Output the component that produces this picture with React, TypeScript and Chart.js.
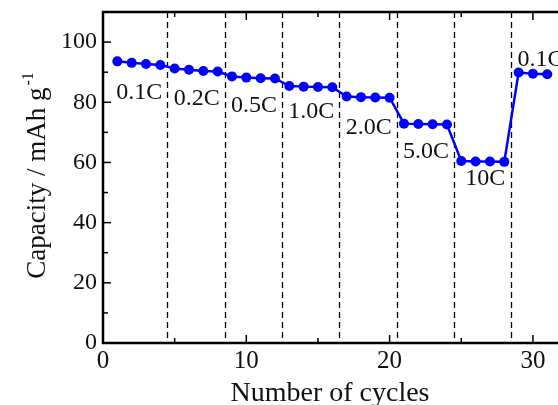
import { useEffect, useRef } from 'react';
import { Chart, registerables } from 'chart.js';

Chart.register(...registerables);

// ---- data ----
const cycles = [1, 2, 3, 4, 5, 6, 7, 8, 9, 10, 11, 12, 13, 14, 15, 16, 17, 18, 19, 20, 21, 22, 23, 24, 25, 26, 27, 28, 29, 30, 31];
const capacity = [
  93.6, 93.1, 92.7, 92.4,
  91.2, 90.8, 90.4, 90.2,
  88.6, 88.2, 88.0, 87.9,
  85.4, 85.2, 85.1, 85.0,
  81.9, 81.7, 81.6, 81.5,
  72.9, 72.8, 72.7, 72.6,
  60.5, 60.3, 60.3, 60.2,
  89.9, 89.5, 89.3,
];
const rateLabels = ['0.1C', '0.2C', '0.5C', '1.0C', '2.0C', '5.0C', '10C', '0.1C'];
const rateStartCycles = [1, 5, 9, 13, 17, 21, 25, 29];
const rateDividers = [4.5, 8.5, 12.5, 16.5, 20.5, 24.5, 28.5];
const xTickValues = [0, 10, 20, 30];
const xMinorValues = [5, 10, 15, 20, 25, 30];
const yTickValues = [0, 20, 40, 60, 80, 100];
const yMinorValues = [10, 20, 30, 40, 50, 60, 70, 80, 90, 100];

// ---- style / layout ----
const FONT = "'Liberation Serif', 'Times New Roman', serif";
const BLUE = '#0000ff';
const LABEL_OFFSETS: [number, number][] = [[0, 31], [0, 30], [0, 29], [0, 26], [0, 31], [0, 28], [5, 18], [0, -13]];

const overlayPlugin = {
  id: 'overlay',
  beforeDatasetsDraw(chart: any) {
    const { ctx, chartArea: a, scales } = chart;
    const x = scales.x;
    ctx.save();
    ctx.strokeStyle = '#000';
    ctx.lineWidth = 1.3;
    ctx.setLineDash([6, 4]);
    for (const d of rateDividers) {
      const px = Math.round(x.getPixelForValue(d)) + 0.5;
      ctx.beginPath();
      ctx.moveTo(px, a.top);
      ctx.lineTo(px, a.bottom);
      ctx.stroke();
    }
    ctx.restore();
  },
  afterDatasetsDraw(chart: any) {
    const { ctx, chartArea: a, scales, width, height } = chart;
    const x = scales.x;
    const y = scales.y;
    ctx.save();
    // frame
    ctx.strokeStyle = '#000';
    ctx.lineWidth = 2.5;
    ctx.setLineDash([]);
    ctx.beginPath();
    ctx.moveTo(width + 5, a.top);
    ctx.lineTo(a.left, a.top);
    ctx.lineTo(a.left, a.bottom);
    ctx.lineTo(width + 5, a.bottom);
    ctx.stroke();
    // ticks
    ctx.lineWidth = 1.5;
    for (const v of xMinorValues) {
      const px = x.getPixelForValue(v);
      const len = v % 10 === 0 ? 8 : 5;
      ctx.beginPath();
      ctx.moveTo(px, a.bottom);
      ctx.lineTo(px, a.bottom - len);
      ctx.moveTo(px, a.top);
      ctx.lineTo(px, a.top + len);
      ctx.stroke();
    }
    for (const v of yMinorValues) {
      const py = y.getPixelForValue(v);
      const len = v % 20 === 0 ? 8 : 5;
      ctx.beginPath();
      ctx.moveTo(a.left, py);
      ctx.lineTo(a.left + len, py);
      ctx.stroke();
    }
    // rate labels
    ctx.fillStyle = '#111';
    ctx.font = `24px ${FONT}`;
    ctx.textAlign = 'left';
    ctx.textBaseline = 'middle';
    rateLabels.forEach((t, i) => {
      const c = rateStartCycles[i];
      const idx = cycles.indexOf(c);
      const px = x.getPixelForValue(c) + LABEL_OFFSETS[i][0];
      const py = y.getPixelForValue(capacity[idx]) + LABEL_OFFSETS[i][1];
      ctx.fillText(t, px - 1, py);
    });
    // x title
    ctx.font = `28px ${FONT}`;
    ctx.textAlign = 'center';
    ctx.textBaseline = 'alphabetic';
    ctx.fillText('Number of cycles', (a.left + a.right) / 2 + 2, height - 4);
    // y title with superscript
    ctx.translate(45, (a.top + a.bottom) / 2 - 2);
    ctx.rotate(-Math.PI / 2);
    ctx.textAlign = 'left';
    const main = 'Capacity / mAh g';
    const sup = '-1';
    ctx.font = `27px ${FONT}`;
    const w1 = ctx.measureText(main).width;
    ctx.font = `16px ${FONT}`;
    const w2 = ctx.measureText(sup).width;
    const total = w1 + 2 + w2;
    ctx.font = `27px ${FONT}`;
    ctx.fillText(main, -total / 2, 0);
    ctx.font = `16px ${FONT}`;
    ctx.fillText(sup, -total / 2 + w1 + 2, -12);
    ctx.restore();
  },
};

export default function App() {
  const ref = useRef<HTMLCanvasElement | null>(null);
  useEffect(() => {
    document.body.style.margin = '0';
    const canvas = ref.current!;
    const chart = new Chart(canvas, {
      type: 'line',
      data: {
        datasets: [
          {
            data: cycles.map((c, i) => ({ x: c, y: capacity[i] })),
            borderColor: BLUE,
            backgroundColor: BLUE,
            borderWidth: 2.5,
            pointRadius: 5,
            pointBorderWidth: 0,
            pointBackgroundColor: BLUE,
            tension: 0,
          },
        ],
      },
      options: {
        animation: false,
        responsive: false,
        devicePixelRatio: 1,
        layout: { padding: { top: 12, right: 0, left: 0, bottom: 0 } },
        plugins: { legend: { display: false }, tooltip: { enabled: false } },
        scales: {
          x: {
            type: 'linear',
            min: 0,
            max: 31.4,
            grid: { display: false, drawTicks: false },
            border: { display: false },
            ticks: { color: '#111', font: { family: FONT, size: 25 }, padding: 3, maxRotation: 0 },
            afterBuildTicks: (s: any) => { s.ticks = xTickValues.map((v) => ({ value: v })); },
            afterFit: (s: any) => { s.height = 62; s.paddingLeft = 0; s.paddingRight = 0; },
          },
          y: {
            type: 'linear',
            min: 0,
            max: 110,
            grid: { display: false, drawTicks: false },
            border: { display: false },
            ticks: { color: '#111', font: { family: FONT, size: 24 }, padding: 6 },
            afterBuildTicks: (s: any) => { s.ticks = yTickValues.map((v) => ({ value: v })); },
            afterFit: (s: any) => { s.width = 103; s.paddingTop = 0; s.paddingBottom = 0; },
          },
        },
      },
      plugins: [overlayPlugin],
    });
    return () => chart.destroy();
  }, []);
  return (
    <div style={{ position: 'absolute', left: 0, top: 0, width: 558, height: 405, background: '#fff' }}>
      <canvas ref={ref} width={558} height={405} />
    </div>
  );
}
